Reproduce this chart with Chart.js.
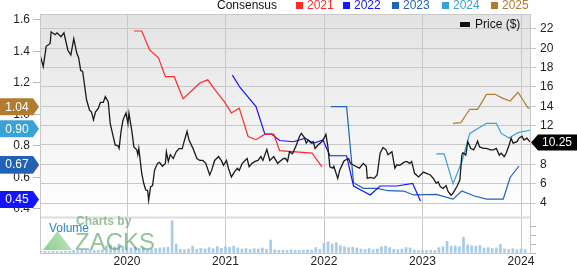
<!DOCTYPE html>
<html>
<head>
<meta charset="utf-8">
<script src="https://cdn.jsdelivr.net/npm/chart.js@4.4.0/dist/chart.umd.min.js"></script>
<style>
html, body { margin: 0; padding: 0; background: #fff; }
</style>
</head>
<body>
<canvas id="zacksChart" width="577" height="265"></canvas>
<script>
// Price ($) - decimal year / close
const priceX = [2019.11,2019.15,2019.18,2019.22,2019.23,2019.27,2019.29,2019.33,2019.36,2019.40,2019.43,2019.46,2019.49,2019.51,2019.53,2019.55,2019.59,2019.62,2019.64,2019.66,2019.68,2019.71,2019.73,2019.76,2019.78,2019.81,2019.83,2019.86,2019.88,2019.91,2019.92,2019.94,2019.96,2019.99,
  2020.01,2020.02,2020.05,2020.07,2020.10,2020.11,2020.12,2020.15,2020.17,2020.19,2020.21,2020.22,2020.24,2020.26,2020.28,2020.31,2020.33,2020.36,2020.39,2020.40,2020.42,2020.44,2020.47,2020.50,2020.53,2020.56,2020.58,2020.61,2020.63,2020.67,2020.71,2020.74,2020.77,2020.80,2020.84,2020.86,2020.89,2020.93,2020.96,2020.98,
  2021.01,2021.03,2021.06,2021.09,2021.12,2021.14,2021.17,2021.22,2021.24,2021.27,2021.30,2021.33,2021.36,2021.38,2021.42,2021.45,2021.49,2021.53,2021.55,2021.59,2021.61,2021.63,2021.65,2021.68,2021.72,2021.75,2021.77,2021.80,2021.82,2021.84,2021.87,2021.89,2021.91,2021.94,2021.98,2021.99,
  2022.02,2022.04,2022.06,2022.09,2022.10,2022.14,2022.16,2022.20,2022.21,2022.25,2022.27,2022.30,2022.36,2022.40,2022.43,2022.44,2022.47,2022.51,2022.54,2022.57,2022.60,2022.63,2022.65,2022.69,2022.72,2022.74,2022.77,2022.81,2022.84,2022.87,2022.89,2022.92,2022.96,2022.98,
  2023.01,2023.04,2023.08,2023.11,2023.14,2023.16,2023.18,2023.21,2023.24,2023.26,2023.29,2023.31,2023.33,2023.35,2023.38,2023.40,2023.41,2023.44,2023.46,2023.49,2023.52,2023.54,2023.56,2023.58,2023.62,2023.65,2023.69,2023.72,2023.75,2023.78,2023.80,2023.83,2023.85,2023.88,2023.90,2023.92,2023.96,2023.98,
  2024.01,2024.03,2024.06,2024.09,2024.10];
const priceY = [19.6,18.1,20.2,20.5,21.7,21.4,21.6,21.2,21.6,19.8,19.3,21.0,19.5,19.0,17.7,17.6,14.65,13.6,13.4,12.6,13.4,13.8,14.4,14.4,15.0,14.45,12.2,10.9,10.0,9.9,9.65,11.4,12.6,13.3,
  12.2,13.3,11.4,9.8,9.5,9.0,9.65,7.07,6.04,5.35,5.3,4.3,5.7,5.8,7.4,8.1,8.2,7.8,8.1,9.3,8.3,9.0,8.6,9.3,9.65,9.6,10.35,11.4,10.5,9.65,8.6,8.4,8.4,8.1,6.9,7.4,8.4,8.8,8.35,7.9,
  8.4,7.6,6.7,7.2,7.6,7.35,8.1,8.6,7.75,8.1,8.3,8.4,8.8,8.4,9.55,8.4,8.8,8.1,8.3,8.6,8.6,8.3,9.3,9.1,10.0,10.85,11.2,10.8,10.2,10.5,10.2,10.35,9.65,10.0,10.35,10.5,
  11.1,9.8,7.75,7.6,7.8,6.55,7.4,8.3,8.4,8.6,8.1,7.9,7.6,8.1,7.8,6.55,6.65,6.55,6.9,9.15,9.75,9.5,9.0,9.3,7.6,7.95,7.9,8.2,8.3,8.1,8.3,7.07,6.7,6.9,
  7.2,7.07,6.9,6.55,6.04,6.2,5.7,5.5,5.8,5.2,4.8,5.0,5.35,5.7,6.4,8.96,9.2,8.96,10.35,9.65,9.5,9.9,10.4,9.8,9.65,9.65,9.5,9.5,9.65,8.96,9.15,8.8,9.15,10.0,10.7,10.2,10.35,10.7,
  10.9,10.5,10.7,10.35,10.25];

// Consensus EPS estimates per fiscal year
const c2021X = [2020.07,2020.15,2020.23,2020.32,2020.39,2020.48,2020.57,2020.74,2020.82,2020.89,2020.99,2021.06,2021.14,2021.23,2021.31,2021.40,2021.49,2021.55,2021.88,2021.98];
const c2021Y = [1.53,1.53,1.41,1.36,1.24,1.24,1.10,1.20,1.22,1.16,1.08,1.01,1.04,0.86,0.84,0.875,0.875,0.77,0.755,0.668];
const c2022X = [2021.07,2021.15,2021.31,2021.40,2021.47,2021.55,2021.69,2021.81,2021.89,2021.99,2022.06,2022.23,2022.30,2022.47,2022.57,2022.74,2022.90,2022.98];
const c2022Y = [1.25,1.17,1.05,0.875,0.875,0.835,0.827,0.849,0.817,0.838,0.738,0.738,0.546,0.489,0.546,0.546,0.563,0.45];
const c2023X = [2022.07,2022.23,2022.30,2022.40,2022.54,2022.65,2022.81,2022.91,2023.14,2023.31,2023.40,2023.52,2023.65,2023.82,2023.89,2023.98];
const c2023Y = [1.05,1.05,0.567,0.531,0.531,0.516,0.514,0.489,0.493,0.463,0.514,0.484,0.463,0.463,0.60,0.673];
const c2024X = [2023.14,2023.22,2023.31,2023.40,2023.48,2023.65,2023.75,2023.80,2023.88,2023.97,2024.09];
const c2024Y = [0.75,0.75,0.56,0.70,0.88,0.944,0.944,0.88,0.85,0.885,0.90];
const c2025X = [2023.31,2023.39,2023.48,2023.56,2023.65,2023.74,2023.80,2023.89,2023.97,2024.07,2024.10];
const c2025Y = [0.944,0.948,1.033,1.033,1.128,1.128,1.107,1.086,1.141,1.043,1.04];

// Volume (thousands), half-month bars starting 2019.125
const volStart = 2019.125;
const volStep = 1 / 24;
const volValues = [8,9,7,10,9,8,10,9, 14,12,15,13,16,14,15,17, 40,45,35,50,38,
  30,28,32, 25,30,20,22,25, 28,30,32, 180, 50, 20,18,22,38,20, 25,22,30,24,36,26,
  35,32,38,28, 22,25,20,24,22,28,20, 72, 18,15,16,14,18,15,14,16,18,15,30,20,
  55,62,50,58, 40,35,30,32,28, 22,20,25,18,22,35, 38,30,20,18,22, 30,28,16,14,
  15,14,16,14,30,35,65,38,40,35,88,45,40,38,42,28,30,25,28,48,22,20,24,18,
  22,18];

// Ticks
const yearTicks = [2020, 2021, 2022, 2023, 2024];
const epsTicks = [0.4, 0.6, 0.8, 1.0, 1.2, 1.4, 1.6];
const priceTicks = [4, 6, 8, 10, 12, 14, 16, 18, 20, 22];
const volTicks = [0, 50000, 100000, 150000];

const seriesNames = ['2021', '2022', '2023', '2024', '2025'];
const seriesColors = ['#ff2a2a', '#1414ff', '#2262b4', '#3aa2d4', '#b27c30'];

const FONT = '"Liberation Sans", Arial, sans-serif';

function pts(xs, ys) {
  return xs.map((x, i) => ({ x: x, y: ys[i] }));
}

const consensusX = [c2021X, c2022X, c2023X, c2024X, c2025X];
const consensusY = [c2021Y, c2022Y, c2023Y, c2024Y, c2025Y];

const datasets = [{
  type: 'line',
  label: 'Price ($)',
  data: pts(priceX, priceY),
  yAxisID: 'price',
  borderColor: '#1a1a1a',
  borderWidth: 1.3,
  pointRadius: 0,
  tension: 0,
  order: 0
}];

consensusX.forEach((xs, i) => {
  datasets.push({
    type: 'line',
    label: seriesNames[i],
    data: pts(xs, consensusY[i]),
    yAxisID: 'eps',
    borderColor: seriesColors[i],
    borderWidth: 1.2,
    pointRadius: 0,
    tension: 0,
    order: 1
  });
});

datasets.push({
  type: 'bar',
  label: 'Volume',
  data: volValues.map((v, i) => ({ x: volStart + i * volStep, y: v * 1000 })),
  yAxisID: 'vol',
  backgroundColor: '#a9cbea',
  barThickness: 2,
  order: 3
});

// Background gradient, year lines, separator, frame
const backdrop = {
  id: 'backdrop',
  beforeDatasetsDraw(chart) {
    const { ctx, chartArea } = chart;
    const sepY = chart.scales.price.getPixelForValue(2.5);
    const g = ctx.createLinearGradient(0, chartArea.top, 0, sepY);
    g.addColorStop(0, '#e3e3e3');
    g.addColorStop(1, '#ffffff');
    ctx.save();
    ctx.globalCompositeOperation = 'destination-over';
    ctx.fillStyle = g;
    ctx.fillRect(chartArea.left, chartArea.top, chartArea.right - chartArea.left, sepY - chartArea.top);
    ctx.restore();

    // vertical year lines
    ctx.save();
    ctx.strokeStyle = '#c8c8c8';
    ctx.lineWidth = 1;
    yearTicks.forEach(yr => {
      const x = Math.round(chart.scales.x.getPixelForValue(yr)) + 0.5;
      ctx.beginPath();
      ctx.moveTo(x, chartArea.top);
      ctx.lineTo(x, chartArea.bottom);
      ctx.stroke();
    });
    ctx.restore();
  },
  afterDatasetsDraw(chart) {
    const { ctx, chartArea } = chart;
    const sepY = chart.scales.price.getPixelForValue(2.5);
    ctx.save();
    ctx.fillStyle = '#dcdcdc';
    ctx.fillRect(chartArea.left, sepY - 1, chartArea.right - chartArea.left, 2);
    ctx.strokeStyle = '#c8c8c8';
    ctx.lineWidth = 1;
    ctx.strokeRect(chartArea.left + 0.5, chartArea.top + 0.5, chartArea.right - chartArea.left - 1, chartArea.bottom - chartArea.top);

    // watermark
    ctx.globalAlpha = 0.6;
    const tg = ctx.createLinearGradient(43, 250, 72, 231);
    tg.addColorStop(0, '#3fae3f');
    tg.addColorStop(1, '#9ad69a');
    ctx.fillStyle = tg;
    ctx.beginPath();
    ctx.moveTo(43, 250);
    ctx.lineTo(72, 250);
    ctx.lineTo(57.5, 231);
    ctx.closePath();
    ctx.fill();
    ctx.fillStyle = '#4f9a55';
    ctx.font = 'bold 12px ' + FONT;
    ctx.textBaseline = 'middle';
    ctx.fillText('Charts by', 76, 222);
    ctx.font = '24px ' + FONT;
    ctx.textBaseline = 'alphabetic';
    ctx.fillText('ZACKS', 75, 250);
    ctx.globalAlpha = 1;
    ctx.fillStyle = '#2a7fd0';
    ctx.font = '12px ' + FONT;
    ctx.textBaseline = 'middle';
    ctx.fillText('Volume', 49, 229);
    ctx.restore();
  }
};

// Legend row and value badges
const labels = {
  id: 'labels',
  afterDraw(chart) {
    const { ctx } = chart;
    ctx.save();
    ctx.font = '12px ' + FONT;
    ctx.textBaseline = 'middle';
    ctx.fillStyle = '#111';
    ctx.fillText('Consensus', 217, 6);
    const boxX = [296, 343, 392, 442, 491];
    seriesNames.forEach((name, i) => {
      ctx.fillStyle = seriesColors[i];
      ctx.fillRect(boxX[i], 2, 7, 7);
      ctx.fillText(name, boxX[i] + 11, 6);
    });

    // Price legend inside plot
    ctx.fillStyle = '#111';
    ctx.fillRect(460, 22, 10, 5);
    ctx.fillText('Price ($)', 475, 25);

    // left badges
    const eps = chart.scales.eps;
    ctx.textAlign = 'center';
    consensusY.forEach((ys, i) => {
      const v = ys[ys.length - 1];
      const y = eps.getPixelForValue(v) - 1.5;
      ctx.fillStyle = seriesColors[i];
      ctx.beginPath();
      ctx.moveTo(0, y - 8.5);
      ctx.lineTo(33, y - 8.5);
      ctx.lineTo(39, y);
      ctx.lineTo(33, y + 8.5);
      ctx.lineTo(0, y + 8.5);
      ctx.closePath();
      ctx.fill();
      ctx.fillStyle = '#fff';
      ctx.fillText(v.toFixed(2), 17, y + 0.5);
    });

    // right price badge
    const last = priceY[priceY.length - 1];
    const py = chart.scales.price.getPixelForValue(last);
    ctx.fillStyle = '#000';
    ctx.beginPath();
    ctx.moveTo(531, py);
    ctx.lineTo(538, py - 8);
    ctx.lineTo(577, py - 8);
    ctx.lineTo(577, py + 8);
    ctx.lineTo(538, py + 8);
    ctx.closePath();
    ctx.fill();
    ctx.fillStyle = '#fff';
    ctx.fillText(last.toFixed(2), 557, py + 0.5);
    ctx.restore();
  }
};

const tickFont = { family: FONT, size: 12 };

new Chart(document.getElementById('zacksChart'), {
  type: 'line',
  data: { datasets: datasets },
  options: {
    responsive: false,
    animation: false,
    layout: { padding: { top: 14, left: 0, right: 0, bottom: 0 } },
    plugins: { legend: { display: false }, tooltip: { enabled: false } },
    scales: {
      x: {
        type: 'linear',
        min: 2019.117,
        max: 2024.102,
        offset: false,
        afterBuildTicks: axis => { axis.ticks = yearTicks.map(v => ({ value: v })); },
        afterFit: scale => { scale.height = 12; },
        ticks: { font: tickFont, color: '#222', padding: 1, maxRotation: 0, callback: v => String(v) },
        grid: { display: false, drawTicks: false },
        border: { display: false }
      },
      eps: {
        type: 'linear',
        position: 'left',
        min: 0.1206,
        max: 1.638,
        afterBuildTicks: axis => { axis.ticks = epsTicks.map(v => ({ value: v })); },
        afterFit: scale => { scale.width = 40; },
        ticks: { font: tickFont, color: '#222', padding: 3, autoSkip: false, callback: v => v.toFixed(1) },
        grid: { drawOnChartArea: false, tickLength: 7, color: '#b8b8b8' },
        border: { display: false }
      },
      vol: {
        type: 'linear',
        position: 'right',
        weight: 0,
        min: 0,
        max: 1328000,
        afterBuildTicks: axis => { axis.ticks = volTicks.map(v => ({ value: v })); },
        afterFit: scale => { scale.width = 0; },
        ticks: { font: tickFont, color: '#222', padding: 4, autoSkip: false, callback: v => v === 0 ? '0' : (v / 1000) + 'k' },
        grid: { drawOnChartArea: false, tickLength: 5, color: '#b8b8b8' },
        border: { display: false }
      },
      price: {
        type: 'linear',
        position: 'right',
        weight: 1,
        min: -1.17,
        max: 23.545,
        afterBuildTicks: axis => { axis.ticks = priceTicks.map(v => ({ value: v })); },
        afterFit: scale => { scale.width = 46; },
        ticks: { font: tickFont, color: '#222', padding: 4, autoSkip: false },
        grid: { color: '#c8c8c8', tickLength: 5 },
        border: { display: false }
      }
    }
  },
  plugins: [backdrop, labels]
});
</script>
</body>
</html>
